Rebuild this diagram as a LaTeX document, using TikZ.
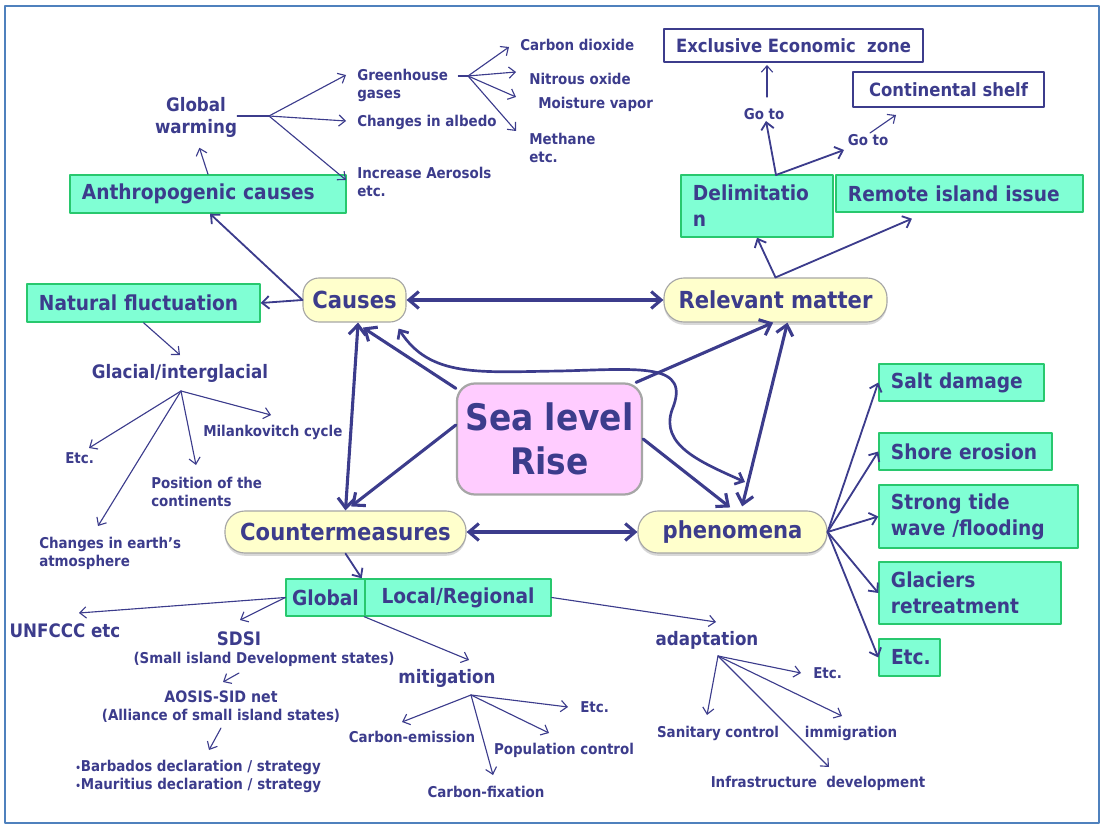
\documentclass[tikz,border=0pt]{standalone}
\usepackage{fontspec}
\setmainfont{DejaVu Sans Condensed}[BoldFont={DejaVu Sans Condensed Bold}]
\usetikzlibrary{arrows.meta,shadows}
\definecolor{ink}{RGB}{60,60,140}
\definecolor{aqua}{RGB}{128,255,212}
\definecolor{aqline}{RGB}{40,200,110}
\definecolor{cream}{RGB}{255,255,204}
\definecolor{rose}{RGB}{255,204,255}
\definecolor{framec}{RGB}{79,129,189}
\tikzset{
  lnk/.style={draw=ink,line width=0.8pt},
  lnkm/.style={draw=ink,line width=1.3pt,>={Straight Barb[length=5pt,width=9pt]}},
  lnkb/.style={draw=ink,line width=2.2pt,>={Straight Barb[length=7pt,width=12pt]}},
  sm/.style={text=ink,font=\bfseries\fontsize{10.6}{12.8}\selectfont,inner sep=0pt,align=left},
  md/.style={text=ink,font=\bfseries\fontsize{13.2}{15.6}\selectfont,inner sep=0pt,align=center},
  aq/.style={draw=aqline,fill=aqua,line width=1pt,text=ink,font=\bfseries\fontsize{14.7}{18.5}\selectfont,
    inner xsep=0.3cm,inner ysep=0pt,align=left},
  wb/.style={draw=ink,fill=white,line width=0.8pt,text=ink,font=\bfseries\fontsize{13}{15}\selectfont,inner sep=0pt},
  oval/.style={draw=black!35,fill=cream,line width=0.8pt,text=ink,font=\bfseries\fontsize{16.7}{19}\selectfont,
    rounded corners=0.5cm,minimum height=1.1cm,inner sep=0pt},
  shd/.style={drop shadow={shadow xshift=0pt,shadow yshift=-2pt,fill=black!30}}
}
\begin{document}
\begin{tikzpicture}[x=0.025cm,y=-0.025cm,line join=round,line cap=round,>={Straight Barb[length=4.5pt,width=8pt]}]
\useasboundingbox (0,0) rectangle (1102,826);
\draw[framec,line width=1.4pt] (5,6) rectangle (1099,823);
\path
(269,116) coordinate(gwf) (346,75) coordinate(tgh) (346,121) coordinate(talb) (346,180) coordinate(taer)
(468,76) coordinate(ghf) (509,47) coordinate(tco) (516,72) coordinate(tno) (516,97) coordinate(tmo) (516,131) coordinate(tme)
(180,355) coordinate(tgl) (181,391) coordinate(glf) (271,415) coordinate(tmil) (196,465) coordinate(tpos)
(89,448) coordinate(tetg) (98,526) coordinate(tear)
(79,613) coordinate(tunf) (240,620) coordinate(tsds)
(239,673) coordinate(aas) (223,682) coordinate(aat) (221,728) coordinate(bbs) (209,750) coordinate(bbt)
(469,660) coordinate(tmit) (471,695) coordinate(mif) (402,722) coordinate(tem) (493,775) coordinate(tfx)
(549,733) coordinate(tpo) (568,707) coordinate(tetm)
(716,622) coordinate(tad) (718,656) coordinate(adf) (801,673) coordinate(tea) (707,715) coordinate(tsa)
(842,716) coordinate(tim) (829,767) coordinate(tin)
(776,175) coordinate(dls) (766,121) coordinate(tg1) (844,150) coordinate(tg2)
(767,97) coordinate(ups) (767,65) coordinate(upt) (870,133) coordinate(shs) (896,115) coordinate(sht)
(745,482) coordinate(crv)
;
% hub
\node[draw=black!35,fill=rose,line width=1.6pt,rounded corners=0.45cm,minimum width=4.625cm,minimum height=2.775cm,
  text=ink,font=\bfseries\fontsize{26}{31}\selectfont,align=center] (slr) at (549.5,439) {Sea level\\Rise};
\node[oval,rounded corners=0.4cm,minimum width=2.575cm] (causes) at (354.5,300) {Causes};
\node[oval,shd,minimum width=5.575cm] (relev) at (775.5,300) {Relevant matter};
\node[oval,shd,minimum width=6.025cm,minimum height=1.05cm] (counter) at (345.5,532) {Countermeasures};
\node[oval,shd,minimum width=4.725cm,minimum height=1.05cm] (phen) at (732.5,532) {phenomena};
% boxes
\node[aq,text width=6.3cm,minimum height=0.95cm] (anthro) at (208,194) {Anthropogenic causes};
\node[aq,text width=5.225cm,minimum height=0.95cm] (natfl) at (143.5,303) {Natural fluctuation};
\node[aq,text width=3.2cm,minimum height=1.55cm] (delim) at (757,206) {Delimitatio\\n};
\node[aq,text width=5.575cm,minimum height=0.925cm] (remote) at (959.5,193.5) {Remote island issue};
\node[aq,text width=3.525cm,minimum height=0.925cm] (salt) at (961.5,382.5) {Salt damage};
\node[aq,text width=3.725cm,minimum height=0.925cm] (shore) at (965.5,451.5) {Shore erosion};
\node[aq,text width=4.375cm,minimum height=1.575cm] (tide) at (978.5,516.5) {Strong tide\\wave /flooding};
\node[aq,text width=3.95cm,minimum height=1.55cm] (glac) at (970,593) {Glaciers\\retreatment};
\node[aq,text width=0.925cm,minimum height=0.925cm] (etcb) at (909.5,657.5) {Etc.};
\node[aq,inner xsep=0pt,align=center,minimum width=1.975cm,minimum height=0.925cm] (global) at (325.5,597.5) {Global};
\node[aq,inner xsep=0pt,align=center,minimum width=4.65cm,minimum height=0.925cm] (local) at (458,597.5) {Local/Regional};
\node[wb,minimum width=6.475cm,minimum height=0.825cm] (eez) at (793.5,45.5) {Exclusive Economic\ \ zone};
\node[wb,minimum width=4.775cm,minimum height=0.875cm] (shelf) at (948.5,89.5) {Continental shelf};
% labels
\node[md] (gw) at (196,117) {Global\\warming};
\node[sm,anchor=west] (gh) at (357,85) {Greenhouse\\gases};
\node[sm,anchor=west] (alb) at (357,122) {Changes in albedo};
\node[sm,anchor=west] (aer) at (357,182) {Increase Aerosols\\etc.};
\node[sm,anchor=west] (co) at (520,45) {Carbon dioxide};
\node[sm,anchor=west] (no) at (529,79) {Nitrous oxide};
\node[sm,anchor=west] (mo) at (538,104) {Moisture vapor};
\node[sm,anchor=west] (me) at (529,148) {Methane\\etc.};
\node[sm] (goa) at (764,114) {Go to};
\node[sm] (gob) at (868,140) {Go to};
\node[md] (glacial) at (180,373) {Glacial/interglacial};
\node[sm,anchor=west] (milan) at (203,432) {Milankovitch cycle};
\node[sm,anchor=west] (etcg) at (65,458) {Etc.};
\node[sm,anchor=west] (posit) at (151,492) {Position of the\\continents};
\node[sm,anchor=west] (earth) at (39,553) {Changes in earth’s\\atmosphere};
\node[md] (unfccc) at (65,631) {UNFCCC etc};
\node[md] (sdsi) at (239,639) {SDSI};
\node[sm] (sids) at (264,659) {(Small island Development states)};
\node[sm,font=\bfseries\fontsize{11.2}{13}\selectfont] (aosis) at (221,697) {AOSIS-SID net};
\node[sm] (alli) at (221,716) {(Alliance of small island states)};
\node[sm,anchor=west] (decl) at (75,776) {{\fontsize{7}{7}\selectfont\textbullet}Barbados declaration / strategy\\
  {\fontsize{7}{7}\selectfont\textbullet}Mauritius declaration / strategy};
\node[md] (mitig) at (447,678) {mitigation};
\node[sm] (emis) at (412,737) {Carbon-emission};
\node[sm] (fixa) at (486,792) {Carbon-fixation};
\node[sm] (popu) at (564,750) {Population control};
\node[sm,anchor=west] (etcm) at (580,707) {Etc.};
\node[md] (adapt) at (707,640) {adaptation};
\node[sm,anchor=west] (etca) at (813,673) {Etc.};
\node[sm] (sani) at (718,733) {Sanitary control};
\node[sm] (immi) at (851,733) {immigration};
\node[sm] (infra) at (818,783) {Infrastructure\ \ development};
% thick links round the hub
\draw[lnkb,<->] (causes) -- (relev);
\draw[lnkb,<->] (counter) -- (phen);
\draw[lnkb,<->] ([xshift=0.09cm]causes.south) -- (counter.north);
\draw[lnkb,<->] ([xshift=0.3cm]relev.south) -- ([xshift=0.24cm,yshift=0.1cm]phen.north);
\draw[lnkb,->] ([yshift=-0.15cm]slr.north west) -- ([xshift=0.21cm,yshift=-0.125cm]causes.south);
\draw[lnkb,->] ([yshift=0.35cm]slr.west) -- ([xshift=0.14cm,yshift=0.1cm]counter.north);
\draw[lnkb,->] ([xshift=-0.175cm]slr.north east) -- ([xshift=-0.06cm]relev.south);
\draw[lnkb,->] (slr.east) -- ([xshift=-0.06cm,yshift=0.075cm]phen.north);
\draw[lnkm,line width=1.9pt,<->] ([xshift=-0.2cm,yshift=-0.15cm]causes.south east) .. controls (430,378) and (480,372) .. (560,371)
  .. controls (640,369) and (692,362) .. (672,410) .. controls (660,445) and (700,462) .. (crv);
% medium links
\draw[lnkm,->] (causes.west) -- ([xshift=0.05cm]anthro.south);
\draw[lnkm,->] (causes.west) -- (natfl.east);
\draw[lnkm,->] (relev.north) -- (delim.south);
\draw[lnkm,->] (relev.north) -- ([xshift=-1.19cm,yshift=-0.15cm]remote.south);
\draw[lnkm,->] (counter.south) -- ([xshift=-0.1cm]global.north east);
\foreach \b in {salt,shore,tide,glac,etcb}\draw[lnkm,->] (phen.east) -- (\b.west);
% thin links
\draw[lnk,->,shorten >=0.275cm] (anthro.north) -- (gw.south);
\draw[lnk] (gw.east |- gwf) -- (gwf);
\foreach \t in {tgh,talb,taer}\draw[lnk,->] (gwf) -- (\t);
\draw[lnk,shorten <=0.25cm] (gh.east |- ghf) -- (ghf);
\foreach \t in {tco,tno,tmo,tme}\draw[lnk,->] (ghf) -- (\t);
\draw[lnk,->] (natfl.south) -- (tgl);
\foreach \t in {tmil,tpos,tetg,tear}\draw[lnk,->] (glf) -- (\t);
\foreach \t in {tunf,tsds}\draw[lnk,->] (global.west) -- (\t);
\draw[lnk,->] (aas) -- (aat);
\draw[lnk,->] (bbs) -- (bbt);
\draw[lnk,->] (local.south west) -- (tmit);
\foreach \t in {tem,tfx,tpo,tetm}\draw[lnk,->] (mif) -- (\t);
\draw[lnk,->] (local.east) -- (tad);
\foreach \t in {tea,tsa,tim,tin}\draw[lnk,->] (adf) -- (\t);
\draw[lnkm,->] (dls) -- (tg1);
\draw[lnkm,->] (dls) -- (tg2);
\draw[lnk,->] (ups) -- (upt);
\draw[lnk,->] (shs) -- (sht);
\end{tikzpicture}
\end{document}
